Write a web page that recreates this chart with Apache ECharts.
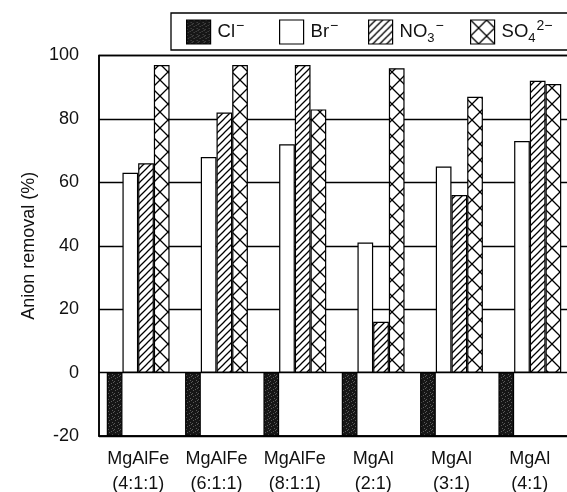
<!DOCTYPE html>
<html>
<head>
<meta charset="utf-8">
<script src="https://cdn.jsdelivr.net/npm/echarts@6/dist/echarts.min.js"></script>
<style>
html,body{margin:0;padding:0;background:#fff;}
#c{width:567px;height:492px;}
</style>
</head>
<body>
<div id="c"></div>
<script>
// ---- data ----
const categories = ['MgAlFe\n(4:1:1)', 'MgAlFe\n(6:1:1)', 'MgAlFe\n(8:1:1)', 'MgAl\n(2:1)', 'MgAl\n(3:1)', 'MgAl\n(4:1)'];
const seriesNames = ['Cl⁻', 'Br⁻', 'NO₃⁻', 'SO₄²⁻'];
const clRemoval  = [-20, -20, -20, -20, -20, -20];
const brRemoval  = [63, 68, 72, 41, 65, 73];
const no3Removal = [66, 82, 97, 16, 56, 92];
const so4Removal = [97, 97, 83, 96, 87, 91];
const yMin = -20, yMax = 100, yInterval = 20;
const yAxisTitle = 'Anion removal (%)';

const FONT = '"Liberation Sans", Arial, sans-serif';

// ---- patterns ----
function makeCanvas(w, h) { const c = document.createElement('canvas'); c.width = w; c.height = h; return c; }
function darkPattern() {
  const c = makeCanvas(6, 6), g = c.getContext('2d');
  g.fillStyle = '#161616'; g.fillRect(0, 0, 6, 6);
  g.fillStyle = '#5a5a5a';
  [[1,0],[4,2],[0,3],[3,5],[5,4]].forEach(p => g.fillRect(p[0], p[1], 1, 1));
  return { image: c, repeat: 'repeat' };
}
function hatchPattern() {
  const s = 7, c = makeCanvas(s, s), g = c.getContext('2d');
  g.fillStyle = '#fff'; g.fillRect(0, 0, s, s);
  g.strokeStyle = '#000'; g.lineWidth = 1.25;
  g.beginPath();
  g.moveTo(-1, s + 1); g.lineTo(s + 1, -1);
  g.moveTo(-2, 2); g.lineTo(2, -2);
  g.moveTo(s - 2, s + 2); g.lineTo(s + 2, s - 2);
  g.stroke();
  return { image: c, repeat: 'repeat' };
}
function crossPattern() {
  const s = 16, c = makeCanvas(s, s), g = c.getContext('2d');
  g.fillStyle = '#fff'; g.fillRect(0, 0, s, s);
  g.strokeStyle = '#000'; g.lineWidth = 1.3;
  g.beginPath();
  g.moveTo(0, 0); g.lineTo(s, s);
  g.moveTo(s, 0); g.lineTo(0, s);
  g.stroke();
  return { image: c, repeat: 'repeat' };
}

const fills = [darkPattern(), '#ffffff', hatchPattern(), crossPattern()];
const values = [clRemoval, brRemoval, no3Removal, so4Removal];

const richLabels = {
  'Cl⁻': '{t|Cl}{sp|−}',
  'Br⁻': '{t|Br}{sp|−}',
  'NO₃⁻': '{t|NO}{sb|3}{sp|−}',
  'SO₄²⁻': '{t|SO}{sb|4}{sp|2−}'
};
const rich = {
  t: { fontSize: 18.5, fontFamily: FONT, color: '#111', lineHeight: 26 },
  sp: { fontSize: 14, fontFamily: FONT, color: '#111', lineHeight: 14, verticalAlign: 'top', padding: [0, 0, 0, 1] },
  sb: { fontSize: 13, fontFamily: FONT, color: '#111', lineHeight: 12, verticalAlign: 'bottom' }
};
const legendX = [186, 279, 368, 470];
const legends = seriesNames.map((n, i) => ({
  data: [n], left: legendX[i], top: 19, padding: 0, itemWidth: 24, itemHeight: 24, itemGap: 0,
  icon: 'rect', selectedMode: false,
  itemStyle: { borderColor: '#000', borderWidth: 1.2 },
  formatter: name => richLabels[name],
  textStyle: { rich: rich, padding: [0, 0, 0, 2] }
}));

const chart = echarts.init(document.getElementById('c'), null, { renderer: 'canvas' });
chart.setOption({
  animation: false,
  backgroundColor: '#fff',
  graphic: [{
    type: 'rect', shape: { x: 171, y: 13, width: 420, height: 37 },
    style: { fill: 'none', stroke: '#000', lineWidth: 1.3 }, z: 0
  }],
  legend: legends,
  grid: { left: 99, top: 55.5, width: 470, bottom: 56, containLabel: false, outerBoundsMode: 'none',
          show: true, borderColor: '#000', borderWidth: 1.5, backgroundColor: 'transparent' },
  xAxis: {
    type: 'category', data: categories,
    axisLine: { onZero: false, lineStyle: { color: '#000', width: 1.5 } },
    axisTick: { show: false },
    axisLabel: { fontSize: 18, lineHeight: 25, color: '#111', fontFamily: FONT, margin: 11, interval: 0 },
    splitLine: { show: false }
  },
  yAxis: {
    type: 'value', min: yMin, max: yMax, interval: yInterval,
    name: yAxisTitle, nameLocation: 'middle', nameGap: 60, nameRotate: 90,
    nameTextStyle: { fontSize: 18, color: '#111', fontFamily: FONT },
    axisLine: { show: true, lineStyle: { color: '#000', width: 1.5 } },
    axisTick: { show: false },
    axisLabel: { fontSize: 18, color: '#111', fontFamily: FONT, margin: 20 },
    splitLine: { show: true, lineStyle: { color: '#000', width: 1.4 } }
  },
  series: seriesNames.map((n, i) => ({
    name: n, type: 'bar', data: values[i],
    barWidth: 15.7, barGap: '0%',
    itemStyle: { color: fills[i], borderColor: '#000', borderWidth: 1.2 },
    emphasis: { disabled: true }
  }))
});
</script>
</body>
</html>
